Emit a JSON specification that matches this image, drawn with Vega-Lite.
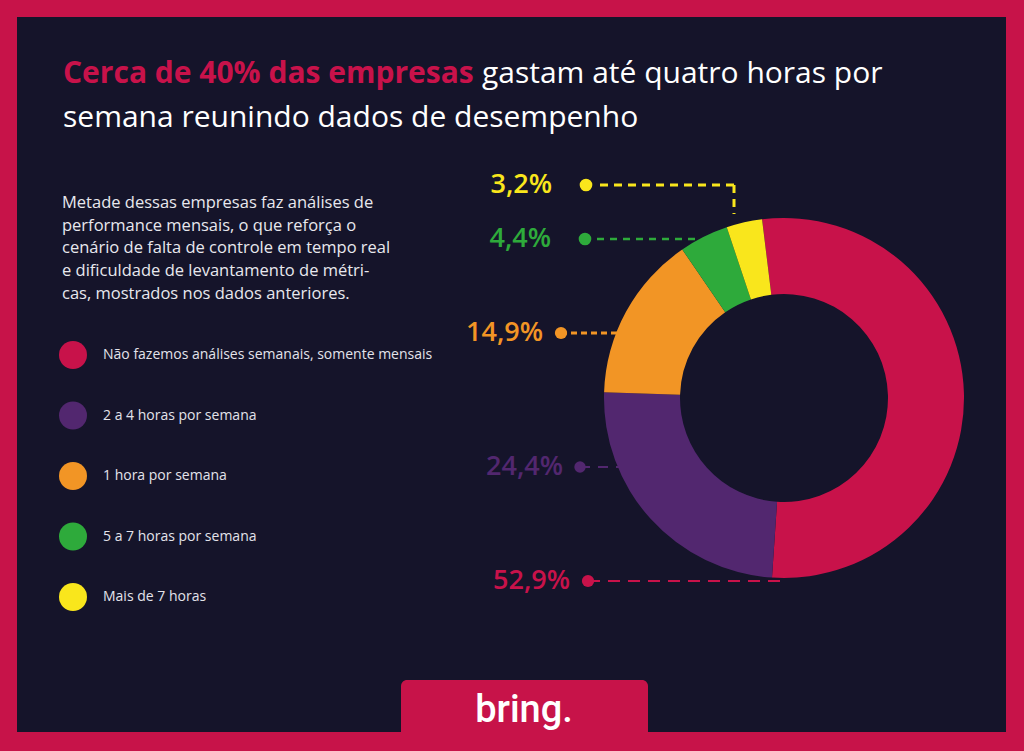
{
  "$schema": "https://vega.github.io/schema/vega-lite/v6.json",
  "width": 1024,
  "height": 751,
  "autosize": {"type": "fit", "contains": "padding"},
  "padding": {"left": 17, "top": 17, "right": 18, "bottom": 19},
  "background": "#c71349",
  "config": {
    "view": {"stroke": null},
    "font": "Open Sans",
    "locale": {"number": {"decimal": ",", "thousands": ".", "grouping": [3], "currency": ["", " €"]}}
  },
  "data": {"values": [
    {"cat": "Não fazemos análises semanais, somente mensais", "share": 0.529, "rank": 1},
    {"cat": "2 a 4 horas por semana", "share": 0.244, "rank": 2},
    {"cat": "1 hora por semana", "share": 0.149, "rank": 3},
    {"cat": "5 a 7 horas por semana", "share": 0.044, "rank": 4},
    {"cat": "Mais de 7 horas", "share": 0.032, "rank": 5}
  ]},
  "layer": [
    {
      "data": {"values": [{}]},
      "mark": {"type": "rect", "color": "#15142a"},
      "encoding": {"x": {"value": 0}, "x2": {"value": "width"}, "y": {"value": 0}, "y2": {"value": "height"}}
    },
    {
      "transform": [{"filter": "datum.rank==1"}],
      "layer": [
        {"mark": {"type": "rule", "strokeCap": "butt", "strokeDash": [12, 8], "strokeWidth": 2, "color": "#c8124a"},
         "encoding": {"x": {"value": 571}, "x2": {"value": 770}, "y": {"value": 564}}},
        {"mark": {"type": "point", "filled": true, "shape": "circle", "size": 150, "opacity": 1, "color": "#c8124a"},
         "encoding": {"x": {"value": 571}, "y": {"value": 564}}},
        {"mark": {"type": "text", "align": "right", "baseline": "middle", "fontSize": 27, "fontWeight": 600, "font": "Open Sans", "color": "#c8124a"},
         "encoding": {"text": {"field": "share", "type": "quantitative", "format": ".1%"}, "x": {"value": 553}, "y": {"value": 564}}}
      ]
    },
    {
      "transform": [{"filter": "datum.rank==2"}],
      "layer": [
        {"mark": {"type": "rule", "strokeCap": "butt", "strokeDash": [10, 8], "strokeWidth": 2, "color": "#52276f"},
         "encoding": {"x": {"value": 563}, "x2": {"value": 605}, "y": {"value": 450}}},
        {"mark": {"type": "point", "filled": true, "shape": "circle", "size": 130, "opacity": 1, "color": "#52276f"},
         "encoding": {"x": {"value": 563}, "y": {"value": 450}}},
        {"mark": {"type": "text", "align": "right", "baseline": "middle", "fontSize": 27, "fontWeight": 600, "font": "Open Sans", "color": "#52276f"},
         "encoding": {"text": {"field": "share", "type": "quantitative", "format": ".1%"}, "x": {"value": 546}, "y": {"value": 450}}}
      ]
    },
    {
      "transform": [{"filter": "datum.rank==3"}],
      "layer": [
        {"mark": {"type": "rule", "strokeCap": "butt", "strokeDash": [6, 4], "strokeWidth": 3, "color": "#f29525"},
         "encoding": {"x": {"value": 544}, "x2": {"value": 625}, "y": {"value": 316}}},
        {"mark": {"type": "point", "filled": true, "shape": "circle", "size": 150, "opacity": 1, "color": "#f29525"},
         "encoding": {"x": {"value": 544}, "y": {"value": 316}}},
        {"mark": {"type": "text", "align": "right", "baseline": "middle", "fontSize": 27, "fontWeight": 600, "font": "Open Sans", "color": "#f29525"},
         "encoding": {"text": {"field": "share", "type": "quantitative", "format": ".1%"}, "x": {"value": 526}, "y": {"value": 316}}}
      ]
    },
    {
      "transform": [{"filter": "datum.rank==4"}],
      "layer": [
        {"mark": {"type": "rule", "strokeCap": "butt", "strokeDash": [7, 6], "strokeWidth": 2.5, "color": "#2eaa3b"},
         "encoding": {"x": {"value": 580}, "x2": {"value": 680}, "y": {"value": 222}}},
        {"mark": {"type": "point", "filled": true, "shape": "circle", "size": 160, "opacity": 1, "color": "#2eaa3b"},
         "encoding": {"x": {"value": 568}, "y": {"value": 222}}},
        {"mark": {"type": "text", "align": "right", "baseline": "middle", "fontSize": 27, "fontWeight": 600, "font": "Open Sans", "color": "#2eaa3b"},
         "encoding": {"text": {"field": "share", "type": "quantitative", "format": ".1%"}, "x": {"value": 534}, "y": {"value": 222}}}
      ]
    },
    {
      "transform": [{"filter": "datum.rank==5"}],
      "layer": [
        {"mark": {"type": "rule", "strokeCap": "butt", "strokeDash": [8, 6], "strokeWidth": 3, "color": "#f9e61c"},
         "encoding": {"x": {"value": 583}, "x2": {"value": 718}, "y": {"value": 168}}},
        {"mark": {"type": "rule", "strokeCap": "butt", "strokeDash": [8, 6], "strokeWidth": 3, "color": "#f9e61c"},
         "encoding": {"x": {"value": 717}, "y": {"value": 168}, "y2": {"value": 197}}},
        {"mark": {"type": "point", "filled": true, "shape": "circle", "size": 160, "opacity": 1, "color": "#f9e61c"},
         "encoding": {"x": {"value": 569}, "y": {"value": 168}}},
        {"mark": {"type": "text", "align": "right", "baseline": "middle", "fontSize": 27, "fontWeight": 600, "font": "Open Sans", "color": "#f9e61c"},
         "encoding": {"text": {"field": "share", "type": "quantitative", "format": ".1%"}, "x": {"value": 535}, "y": {"value": 168}}}
      ]
    },
    {
      "mark": {"type": "arc", "x": 767, "y": 381, "radius": 180, "innerRadius": 104},
      "encoding": {
        "theta": {"field": "share", "type": "quantitative", "stack": true, "scale": {"range": [-0.122, 6.161]}},
        "order": {"field": "rank", "type": "quantitative"},
        "color": {
          "field": "cat", "type": "nominal",
          "scale": {
            "domain": ["Não fazemos análises semanais, somente mensais", "2 a 4 horas por semana", "1 hora por semana", "5 a 7 horas por semana", "Mais de 7 horas"],
            "range": ["#c8124a", "#52276f", "#f29525", "#2eaa3b", "#f9e61c"]
          },
          "legend": {
            "title": null, "orient": "none", "legendX": 42, "legendY": 324, "padding": 0,
            "symbolType": "circle", "symbolSize": 784, "symbolStrokeWidth": 0, "symbolOpacity": 1,
            "rowPadding": 32.5, "labelOffset": 16, "labelFontSize": 14, "labelColor": "#e3e3ea",
            "labelFont": "Open Sans", "labelLimit": 600
          }
        }
      }
    },
    {
      "data": {"values": [{}]},
      "mark": {"type": "text", "align": "left", "baseline": "alphabetic", "fontSize": 30, "fontWeight": 700, "font": "Open Sans", "color": "#c8124a", "text": "Cerca de 40% das empresas"},
      "encoding": {"x": {"value": 46}, "y": {"value": 66}}
    },
    {
      "data": {"values": [{}]},
      "mark": {"type": "text", "align": "left", "baseline": "alphabetic", "fontSize": 30, "fontWeight": 400, "font": "Open Sans", "color": "#ffffff", "text": "gastam até quatro horas por"},
      "encoding": {"x": {"value": 465}, "y": {"value": 66}}
    },
    {
      "data": {"values": [{}]},
      "mark": {"type": "text", "align": "left", "baseline": "alphabetic", "fontSize": 30, "fontWeight": 400, "font": "Open Sans", "color": "#ffffff", "text": "semana reunindo dados de desempenho"},
      "encoding": {"x": {"value": 46}, "y": {"value": 110}}
    },
    {
      "data": {"values": [{}]},
      "mark": {"type": "text", "align": "left", "baseline": "alphabetic", "fontSize": 16.5, "font": "Open Sans", "color": "#e8e8ee", "lineHeight": 22.7,
        "text": ["Metade dessas empresas faz análises de", "performance mensais, o que reforça o", "cenário de falta de controle em tempo real", "e dificuldade de levantamento de métri-", "cas, mostrados nos dados anteriores."]},
      "encoding": {"x": {"value": 45}, "y": {"value": 191}}
    },
    {
      "data": {"values": [{}]},
      "mark": {"type": "rect", "color": "#c71349", "cornerRadiusTopLeft": 6, "cornerRadiusTopRight": 6},
      "encoding": {"x": {"value": 384}, "x2": {"value": 631}, "y": {"value": 663}, "y2": {"value": 734}}
    },
    {
      "data": {"values": [{}]},
      "mark": {"type": "text", "align": "center", "baseline": "alphabetic", "fontSize": 38, "fontWeight": 500, "font": "Roboto", "color": "#ffffff", "text": "bring."},
      "encoding": {"x": {"value": 507}, "y": {"value": 705}}
    }
  ]
}
